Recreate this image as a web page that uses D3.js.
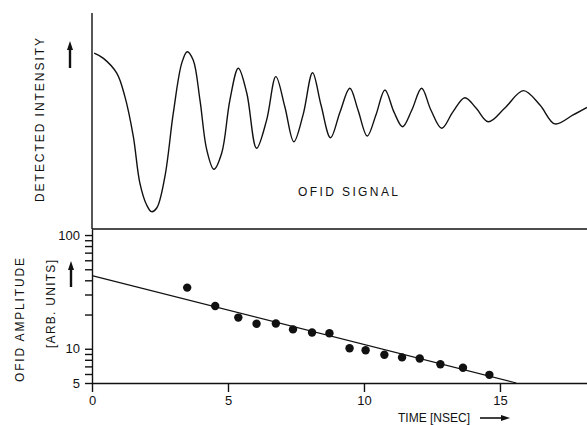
<!DOCTYPE html>
<html><head><meta charset="utf-8">
<script src="https://cdn.jsdelivr.net/npm/d3@7"></script>
<style>body{margin:0;background:#fff}svg{display:block}text{font-family:"Liberation Sans",Arial,sans-serif;fill:#111}</style>
</head><body><svg id="c" width="587" height="425"></svg>
<script>
// Upper panel: detected intensity (arb.) vs time (ns)
const sigT = [0.08,0.42,0.91,1.21,1.52,1.76,2.01,2.19,2.38,2.68,2.99,3.30,3.50,3.72,3.97,4.22,4.48,4.77,5.07,5.38,5.69,6.05,6.42,6.76,7.09,7.42,7.76,8.11,8.42,8.77,9.12,9.48,9.78,10.12,10.44,10.77,11.10,11.42,11.76,12.12,12.46,12.86,13.27,13.71,14.12,14.57,15.18,15.86,16.47,17.02,17.69,18.2];
const sigI = [81.3,78.9,72.0,61.1,42.5,20.9,10.7,7.6,9.3,23.9,53.5,76.7,82.0,78.1,59.5,36.3,27.3,34.9,59.5,74.3,62.8,37.1,50.2,70.4,56.4,40.1,52.6,72.2,57.2,42.0,54.0,65.0,54.9,42.8,52.6,64.2,54.0,47.1,54.9,65.0,54.9,46.4,54.0,60.6,55.8,49.4,55.8,63.9,57.2,48.4,52.6,56.1];
// Lower panel: OFID amplitude (arb. units, log) vs time
const ampT = [3.50,4.53,5.38,6.05,6.76,7.39,8.09,8.73,9.47,10.06,10.75,11.40,12.05,12.81,13.64,14.61];
const ampV = [34.5,23.8,18.8,16.6,16.7,14.8,13.9,13.7,10.1,9.7,8.86,8.4,8.2,7.3,6.8,5.9];
const fitT = [0, 15.6];
const fitV = [44, 5];
const xTicks = [0,5,10,15];
const yTicks = [5,6,7,8,9,10,20,30,40,50,60,70,80,90,100];
const yLabels = [5,10,100];

const svg = d3.select("#c");
const x = d3.scaleLinear().domain([0,18.2]).range([92,587]);
const yTop = d3.scaleLinear().domain([0,100]).range([228,13]);
const yLog = d3.scaleLog().domain([5,113]).range([383,229]);

// left axis line for upper panel
svg.append("line").attr("x1",92).attr("x2",92).attr("y1",13).attr("y2",229)
  .attr("stroke","#111").attr("stroke-width",1.4);
// separator line (top of lower panel)
svg.append("line").attr("x1",92).attr("x2",587).attr("y1",yLog(113)).attr("y2",yLog(113))
  .attr("stroke","#111").attr("stroke-width",1.4);

// upper signal
svg.append("path").datum(sigT.map((t,i)=>[t,sigI[i]]))
  .attr("d",d3.line().x(d=>x(d[0])).y(d=>yTop(d[1])).curve(d3.curveCatmullRom.alpha(0.5)))
  .attr("fill","none").attr("stroke","#111").attr("stroke-width",1.4);

// lower axes
const gy = svg.append("g").attr("transform","translate(92,0)")
  .call(d3.axisLeft(yLog).tickValues(yTicks).tickFormat(d=>yLabels.includes(d)?d:"").tickSize(7).tickSizeOuter(0).tickPadding(5));
const gx = svg.append("g").attr("transform","translate(0,383)")
  .call(d3.axisBottom(x).tickValues(xTicks).tickSize(9).tickSizeOuter(0).tickPadding(4));
[gx,gy].forEach(g=>{
  g.selectAll("path,line").attr("stroke","#111").attr("stroke-width",1.4);
  g.selectAll("text").attr("font-size",13).attr("fill","#111").style("font-family","Liberation Sans, Arial, sans-serif");
});

// fit line
svg.append("path").datum(fitT.map((t,i)=>[t,fitV[i]]))
  .attr("d",d3.line().x(d=>x(d[0])).y(d=>yLog(d[1])))
  .attr("fill","none").attr("stroke","#111").attr("stroke-width",1.2);

// data points
svg.selectAll("circle.pt").data(ampT.map((t,i)=>[t,ampV[i]])).join("circle")
  .attr("cx",d=>x(d[0])).attr("cy",d=>yLog(d[1])).attr("r",4.2).attr("fill","#111");

// labels
function vtext(cx,cy,str,len){
  svg.append("text").attr("transform",`translate(${cx},${cy}) rotate(-90)`)
    .attr("text-anchor","middle").attr("dominant-baseline","middle")
    .attr("font-size",12).attr("textLength",len).attr("lengthAdjust","spacing").text(str);
}
vtext(41,120,"DETECTED INTENSITY",164);
vtext(21,320,"OFID AMPLITUDE",124);
vtext(52,304,"[ARB. UNITS]",88);

svg.append("text").attr("x",298).attr("y",196).attr("font-size",12)
  .attr("textLength",100).attr("lengthAdjust","spacing").text("OFID  SIGNAL");
svg.append("text").attr("x",398).attr("y",422).attr("font-size",12)
  .attr("textLength",72).attr("lengthAdjust","spacing").text("TIME [NSEC]");

// arrows
function upArrow(cx,y1,y2){
  svg.append("line").attr("x1",cx).attr("x2",cx).attr("y1",y2).attr("y2",y1+6)
    .attr("stroke","#111").attr("stroke-width",2.4);
  svg.append("path").attr("d",`M${cx},${y1}L${cx-3},${y1+9}L${cx+3},${y1+9}Z`).attr("fill","#111");
}
upArrow(70,41,68);
upArrow(71,261,287);
svg.append("line").attr("x1",480).attr("x2",503).attr("y1",418).attr("y2",418)
  .attr("stroke","#111").attr("stroke-width",1.6);
svg.append("path").attr("d","M510,418L501,415L501,421Z").attr("fill","#111");
</script></body></html>
